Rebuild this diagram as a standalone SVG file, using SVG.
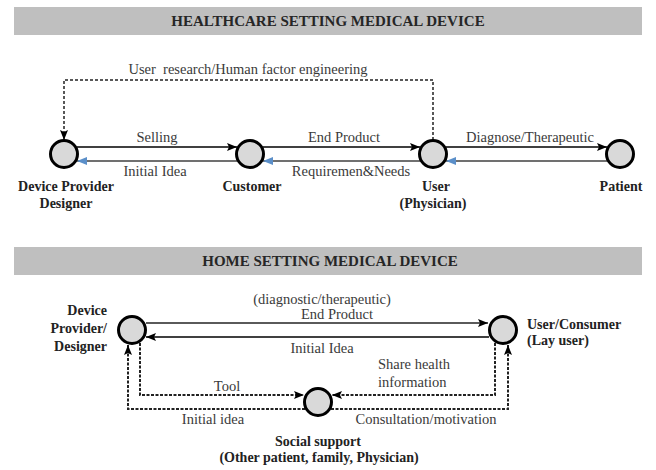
<svg xmlns="http://www.w3.org/2000/svg" width="656" height="470" viewBox="0 0 656 470" font-family="'Liberation Serif', 'DejaVu Serif', serif">
<style>
.hdr{fill:#bfbfbf}
.ht{font-family:'Liberation Serif','DejaVu Serif',serif;font-weight:bold;font-size:15px;fill:#262626;text-anchor:middle}
.node{fill:#d9d9d9;stroke:#000;stroke-width:3}
.nl{font-family:'Liberation Serif','DejaVu Serif',serif;font-weight:bold;font-size:14px;fill:#222}
.lb{font-family:'Liberation Serif','DejaVu Serif',serif;font-size:14.5px;fill:#3a3a3a}
.c{text-anchor:middle}
.r{text-anchor:end}
.solid{fill:none;stroke:#000;stroke-width:1.5}
.back{fill:none;stroke:#404040;stroke-width:1.5}
.gray{fill:none;stroke:#5a5a5a;stroke-width:2.2}
.dash{fill:none;stroke:#222;stroke-width:1.5;stroke-dasharray:3 2}
.dash2{fill:none;stroke:#222;stroke-width:2;stroke-dasharray:3 1.5}
</style>
<defs>
<marker id="ab" markerUnits="userSpaceOnUse" markerWidth="11" markerHeight="9" refX="10" refY="4" orient="auto"><path d="M0,0 L10,4 L0,8 L2,4 z" fill="#000"/></marker>
<marker id="abl" markerUnits="userSpaceOnUse" markerWidth="11" markerHeight="9" refX="10" refY="4" orient="auto"><path d="M0,0 L10,4 L0,8 z" fill="#5b8fc9"/></marker>
</defs>

<g id="header-healthcare">
<rect class="hdr" x="14" y="7" width="628" height="28"/>
<text class="ht" x="328" y="26">HEALTHCARE SETTING MEDICAL DEVICE</text>
</g>
<g id="header-home">
<rect class="hdr" x="14" y="247" width="628" height="28"/>
<text class="ht" x="330" y="266">HOME SETTING MEDICAL DEVICE</text>
</g>

<g id="connectors">
<path class="dash" d="M433,140 V80 H64 V140" marker-end="url(#ab)"/>
<line class="solid" x1="77" y1="147" x2="237" y2="147" marker-end="url(#ab)"/>
<line class="back" x1="237" y1="161" x2="77" y2="161" marker-end="url(#abl)"/>
<line class="solid" x1="263" y1="147" x2="420" y2="147" marker-end="url(#ab)"/>
<line class="back" x1="420" y1="161" x2="263" y2="161" marker-end="url(#abl)"/>
<line class="solid" x1="446" y1="147" x2="607" y2="147" marker-end="url(#ab)"/>
<line class="back" x1="607" y1="161" x2="446" y2="161" marker-end="url(#abl)"/>
<line class="gray" x1="146" y1="323" x2="488" y2="323" marker-end="url(#ab)"/>
<line class="solid" x1="489" y1="337" x2="146" y2="337" marker-end="url(#ab)"/>
<path class="dash2" d="M140,343 V395 H304" marker-end="url(#ab)"/>
<path class="dash2" d="M305,409 H128 V345" marker-end="url(#ab)"/>
<path class="dash2" d="M495,343 V395 H332" marker-end="url(#ab)"/>
<path class="dash2" d="M331,409 H508 V345" marker-end="url(#ab)"/>
</g>

<g id="connector-labels">
<text class="lb c" x="248" y="74" xml:space="preserve">User  research/Human factor engineering</text>
<text class="lb c" x="157" y="142">Selling</text>
<text class="lb c" x="155" y="176">Initial Idea</text>
<text class="lb c" x="344" y="142">End Product</text>
<text class="lb c" x="351" y="176">Requiremen&amp;Needs</text>
<text class="lb c" x="530" y="142">Diagnose/Therapeutic</text>
<text class="lb c" x="322" y="304">(diagnostic/therapeutic)</text>
<text class="lb c" x="337" y="319">End Product</text>
<text class="lb c" x="322" y="353">Initial Idea</text>
<text class="lb c" x="227" y="391">Tool</text>
<text class="lb c" x="213" y="424">Initial idea</text>
<text class="lb" x="378" y="369">Share health</text>
<text class="lb" x="378" y="387">information</text>
<text class="lb c" x="426" y="424">Consultation/motivation</text>
</g>

<g id="node-device-provider">
<circle class="node" cx="64" cy="154" r="13.5"/>
<text class="nl c" x="66" y="191">Device Provider</text>
<text class="nl c" x="66" y="208">Designer</text>
</g>
<g id="node-customer">
<circle class="node" cx="250" cy="154" r="13.5"/>
<text class="nl c" x="252" y="191">Customer</text>
</g>
<g id="node-user-physician">
<circle class="node" cx="433" cy="154" r="13.5"/>
<text class="nl c" x="436" y="191">User</text>
<text class="nl c" x="433" y="208">(Physician)</text>
</g>
<g id="node-patient">
<circle class="node" cx="620" cy="154" r="13.5"/>
<text class="nl c" x="621" y="191">Patient</text>
</g>

<g id="node-home-device-provider">
<circle class="node" cx="132" cy="330" r="13.5"/>
<text class="nl r" x="107" y="315">Device</text>
<text class="nl r" x="107" y="333">Provider/</text>
<text class="nl r" x="107" y="351">Designer</text>
</g>
<g id="node-user-consumer">
<circle class="node" cx="503" cy="330" r="13.5"/>
<text class="nl" x="527" y="329">User/Consumer</text>
<text class="nl" x="527" y="345">(Lay user)</text>
</g>
<g id="node-social-support">
<circle class="node" cx="318" cy="402" r="13.5"/>
<text class="nl c" x="318" y="446">Social support</text>
<text class="nl c" x="319" y="462">(Other patient, family, Physician)</text>
</g>
</svg>
